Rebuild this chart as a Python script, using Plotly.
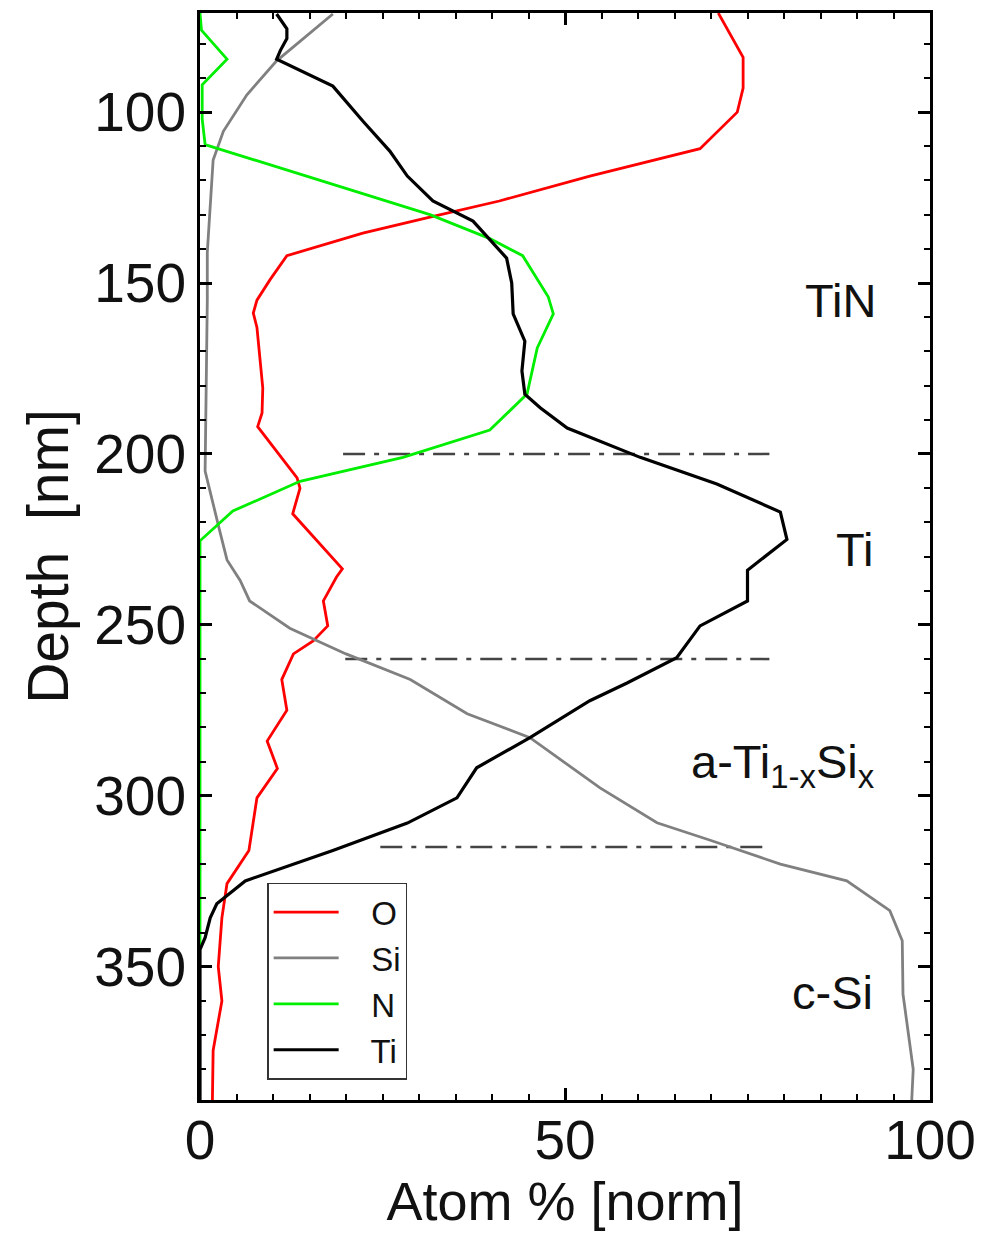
import plotly.graph_objects as go

# ---- data (depth in nm, value in atom %) ----
o_depth = [71, 84, 93, 100, 110.7, 118.7, 126, 129, 130.7, 135.4, 142, 149, 155, 158.8, 163, 180.7, 188, 192,
           207, 210, 217.5, 233.6, 236, 243, 250.3, 254.7, 258.5, 266, 275, 284, 292, 300.6, 316, 325.7,
           335.7, 350, 360, 374.5, 389]
o_val = [71, 74.4, 74.4, 73.6, 68.5, 53.4, 41, 34.7, 31.5, 22.3, 11.9, 9.6, 7.8, 7.3, 7.8, 8.6, 8.5, 7.9,
         13.3, 13.7, 12.7, 19.5, 18.7, 16.9, 17.5, 15.5, 12.8, 11.2, 11.9, 9.2, 10.6, 7.8, 6.7, 3.7,
         3.0, 2.5, 3.0, 1.8, 1.7]

si_depth = [71.3, 85, 95, 105.6, 114, 141, 155, 205, 222.5, 231, 237, 243, 251, 258.5, 266, 276, 283, 295.6,
            297.7, 307.9, 313, 320, 324.9, 333.6, 342.4, 358, 380, 389]
si_val = [18.2, 10.5, 6.4, 3.2, 1.8, 1.0, 1.0, 0.7, 2.7, 3.7, 5.5, 6.8, 12.3, 20, 28.8, 36.6, 45.2, 53.4,
          54.8, 62.6, 69.9, 79.5, 88.6, 94.5, 96.2, 96.3, 97.7, 97.5]

n_depth = [71, 76, 84.5, 92, 102, 109.5, 130, 137, 142, 154, 159, 169, 182.5, 193, 201, 208, 216.7, 225.4, 345]
n_val = [0, 0.2, 3.7, 0.3, 0.3, 0.7, 31.5, 39.7, 44.2, 47.7, 48.4, 46.2, 44.8, 39.7, 27.8, 13.7, 4.5, 0, 0]

ti_depth = [71.3, 75.6, 78.5, 82, 84.5, 92.4, 102.6, 111.4, 118.7, 126, 131.9, 142.7, 150, 159, 167, 175.7,
            182.5, 186.5, 192.4, 201, 208.8, 217, 225, 231, 234, 243, 250.3, 259.6, 267, 272.2, 283, 291.8,
            300.6, 308, 316, 324.9, 331.6, 335.7, 341.5, 345, 389]
ti_val = [10.5, 11.9, 11.9, 11, 10.5, 18.2, 22.3, 26, 28.4, 31.9, 37.4, 42, 42.7, 42.9, 44.5, 44.1,
          44.5, 46.6, 50.3, 60.3, 70.8, 79.5, 80.4, 76.7, 75, 75, 68.5, 65.3, 58.5, 53.4, 45.2, 37.9,
          35.2, 28.4, 18.2, 6.2, 2.3, 1.4, 0.7, 0, 0]

boundary_depth = [200, 260, 315]
boundary_x_start = [19.6, 19.9, 24.7]
boundary_x_end = [78, 78, 78]

layer_labels = ["TiN", "Ti", "a-Ti<sub>1-x</sub>Si<sub>x</sub>", "c-Si"]
layer_x = [87.7, 89.7, 79.8, 86.6]
layer_depth = [155, 228, 291, 357.5]

x_ticks = [0, 50, 100]
y_ticks = [100, 150, 200, 250, 300, 350]

FONT = "Arial, 'Liberation Sans', sans-serif"

fig = go.Figure()

for d, xs, xe in zip(boundary_depth, boundary_x_start, boundary_x_end):
    fig.add_trace(go.Scatter(x=[xs, xe], y=[d, d], mode="lines", showlegend=False, hoverinfo="skip",
                             line=dict(color="#444444", width=2.5, dash="22px,9px,5px,9px")))

fig.add_trace(go.Scatter(x=o_val, y=o_depth, mode="lines", name="   O", line=dict(color="#ff0000", width=2.8)))
fig.add_trace(go.Scatter(x=si_val, y=si_depth, mode="lines", name="   Si", line=dict(color="#808080", width=2.8)))
fig.add_trace(go.Scatter(x=n_val, y=n_depth, mode="lines", name="   N", line=dict(color="#00ee00", width=2.8)))
fig.add_trace(go.Scatter(x=ti_val, y=ti_depth, mode="lines", name="   Ti", line=dict(color="#000000", width=3.2)))

for t, x, y in zip(layer_labels, layer_x, layer_depth):
    fig.add_annotation(x=x, y=y, xref="x", yref="y", text=t, showarrow=False,
                       font=dict(family=FONT, size=47, color="#111111"))

axis_common = dict(showline=True, linecolor="black", linewidth=3, mirror="ticks", ticks="inside",
                   tickcolor="black", tickwidth=2.5, ticklen=12, showgrid=False, zeroline=False,
                   automargin=False, tickfont=dict(family=FONT, size=55, color="#111111"))

fig.update_xaxes(range=[0, 100], tickvals=x_ticks, ticktext=[str(v) for v in x_ticks],
                 ticklabelstandoff=-10,
                 minor=dict(dtick=5, tick0=0, ticks="inside", ticklen=6, tickwidth=2, tickcolor="black"),
                 title=dict(text="Atom % [norm]", font=dict(family=FONT, size=54, color="#111111"), standoff=2),
                 **axis_common)
fig.update_yaxes(range=[389, 71], tickvals=y_ticks, ticktext=[str(v) for v in y_ticks],
                 minor=dict(dtick=10, tick0=0, ticks="inside", ticklen=6, tickwidth=2, tickcolor="black"),
                 title=dict(text="Depth  [nm]", font=dict(family=FONT, size=57, color="#111111"), standoff=8),
                 **axis_common)

fig.update_layout(
    width=984, height=1247,
    margin=dict(l=192, r=62, t=5, b=155),
    plot_bgcolor="white", paper_bgcolor="white",
    legend=dict(x=0.092, y=0.2, xanchor="left", yanchor="top", bgcolor="white",
                bordercolor="#333333", borderwidth=1.5, itemwidth=65,
                entrywidth=178, entrywidthmode="pixels",
                font=dict(family=FONT, size=33, color="#111111"), tracegroupgap=0),
    showlegend=True,
)

fig.write_html("out.html")
